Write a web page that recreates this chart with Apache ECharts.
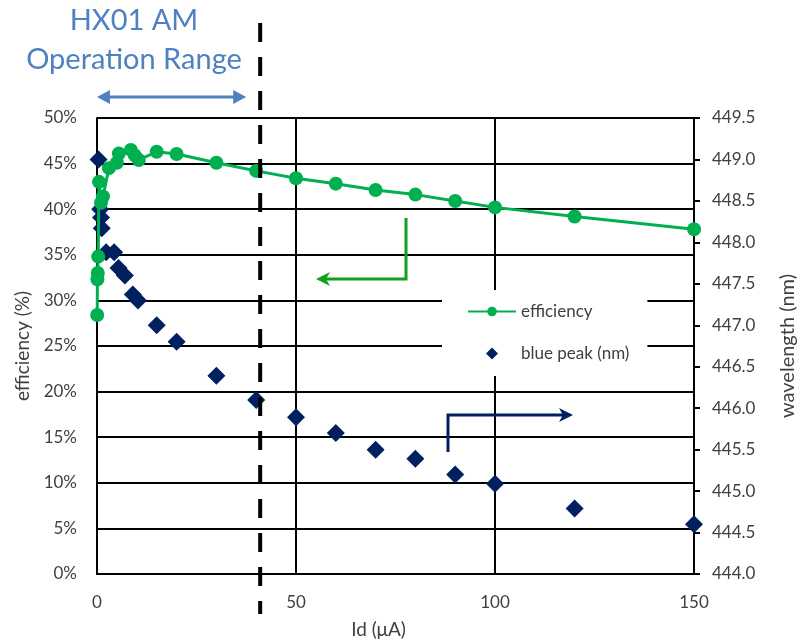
<!DOCTYPE html>
<html>
<head>
<meta charset="utf-8">
<script src="https://cdn.jsdelivr.net/npm/echarts@6/dist/echarts.min.js"></script>
<style>html,body{margin:0;padding:0;background:#fff;width:100%;height:100%;overflow:hidden}#c{width:100%;height:100%}</style>
</head>
<body>
<div id="c"></div>
<script>
// Efficiency series (Id in µA, efficiency in %)
var effX = [0.05, 0.1, 0.2, 0.3, 0.5, 1, 1.5, 3, 5, 5.5, 8.5, 9.5, 10.5, 15, 20, 30, 40, 50, 60, 70, 80, 90, 100, 120, 150];
var effY = [28.4, 32.3, 33.0, 34.8, 43.0, 40.7, 41.4, 44.5, 45.1, 46.1, 46.5, 45.9, 45.4, 46.3, 46.05, 45.1, 44.2, 43.4, 42.8, 42.1, 41.6, 40.9, 40.2, 39.2, 37.8];
// Blue peak wavelength series (Id in µA, nm)
var peakX = [0.4, 0.8, 1, 1.2, 2.3, 4.3, 5.4, 7, 9, 10.3, 15, 20, 30, 40, 50, 60, 70, 80, 90, 100, 120, 150];
var peakY = [449.0, 448.4, 448.3, 448.17, 447.88, 447.88, 447.69, 447.6, 447.37, 447.3, 447.0, 446.8, 446.39, 446.1, 445.89, 445.7, 445.5, 445.39, 445.2, 445.09, 444.79, 444.6];
// Axis ticks
var xTicks = [0, 50, 100, 150];
var rangeLimit = 41; // operation range boundary (µA)

var FONT = 'Lato, "Open Sans", sans-serif';
var TXT = '#404040';
var chart = echarts.init(document.getElementById('c'), null, {renderer: 'canvas'});

var effData = effX.map(function (x, i) { return [x, effY[i] / 100]; });
var peakData = peakX.map(function (x, i) { return [x, peakY[i]]; });

var option = {
  animation: false,
  backgroundColor: '#fff',
  textStyle: {fontFamily: FONT},
  grid: {left: 97, right: 103, top: 118, bottom: 66, containLabel: false, outerBoundsMode: 'none'},
  legend: {
    orient: 'vertical',
    left: 442, top: 290,
    padding: [13, 18, 14, 25],
    itemGap: 25,
    itemWidth: 48, itemHeight: 12,
    backgroundColor: '#fff',
    textStyle: {fontFamily: FONT, fontSize: 17, color: TXT},
    data: [
      {name: 'efficiency'},
      {name: 'blue peak (nm)', icon: 'path://M5,0 L10,5 L5,10 L0,5 Z'}
    ]
  },
  xAxis: {
    type: 'value', min: xTicks[0], max: xTicks[xTicks.length - 1], interval: 50,
    name: 'Id (\u03bcA)', nameLocation: 'middle', nameGap: 46,
    nameTextStyle: {fontFamily: FONT, fontSize: 19, color: TXT, padding: [0, 34, 0, 0]},
    axisLine: {show: true, lineStyle: {color: '#000', width: 2}},
    axisTick: {show: false},
    axisLabel: {fontFamily: FONT, fontSize: 17, color: TXT, margin: 20},
    splitLine: {show: true, lineStyle: {color: '#000', width: 2}}
  },
  yAxis: [{
    type: 'value', min: 0, max: 0.5, interval: 0.05,
    name: 'efficiency (%)', nameLocation: 'middle', nameGap: 64, nameRotate: 90,
    nameTextStyle: {fontFamily: FONT, fontSize: 19, color: TXT},
    axisLine: {show: true, lineStyle: {color: '#000', width: 2}},
    axisTick: {show: false},
    axisLabel: {fontFamily: FONT, fontSize: 17, color: TXT, margin: 20,
      formatter: function (v) { return Math.round(v * 100) + '%'; }},
    splitLine: {show: true, lineStyle: {color: '#000', width: 2}}
  }, {
    type: 'value', min: 444, max: 449.5, interval: 0.5, position: 'right',
    name: 'wavelength (nm)', nameLocation: 'middle', nameGap: 84, nameRotate: 90,
    nameTextStyle: {fontFamily: FONT, fontSize: 20, color: TXT},
    axisLine: {show: true, lineStyle: {color: '#000', width: 2}},
    axisTick: {show: true, inside: false, length: 6, lineStyle: {color: '#000', width: 2}},
    axisLabel: {fontFamily: FONT, fontSize: 17, color: TXT, margin: 18,
      formatter: function (v) { return v.toFixed(1); }},
    splitLine: {show: false}
  }],
  series: [{
    name: 'blue peak (nm)', type: 'scatter', yAxisIndex: 1,
    symbol: 'diamond', symbolSize: 18,
    itemStyle: {color: '#002060', opacity: 1},
    data: peakData, z: 3
  }, {
    name: 'efficiency', type: 'line', yAxisIndex: 0,
    symbol: 'circle', symbolSize: 14, showSymbol: true,
    lineStyle: {color: '#00b050', width: 3},
    itemStyle: {color: '#00b050'},
    data: effData, z: 4
  }]
};
chart.setOption(option);

// annotations
var xr = chart.convertToPixel({xAxisIndex: 0}, rangeLimit);
var x0 = chart.convertToPixel({xAxisIndex: 0}, 0);
var BLUE = '#4f81c2';
var G = '#10a020';
var NAVY = '#002060';
chart.setOption({
  graphic: [
    {type: 'text', x: 134, y: 6, z: 10, style: {text: 'HX01 AM', fill: BLUE, font: '29px ' + FONT, textAlign: 'center'}},
    {type: 'text', x: 134, y: 45, z: 10, style: {text: 'Operation Range', fill: BLUE, font: '29px ' + FONT, textAlign: 'center'}},
    // double arrow
    {type: 'line', z: 10, shape: {x1: x0 + 10, y1: 97, x2: xr - 24, y2: 97}, style: {stroke: BLUE, lineWidth: 3}},
    {type: 'polygon', z: 10, shape: {points: [[x0, 97], [x0 + 13, 90], [x0 + 13, 104]]}, style: {fill: BLUE}},
    {type: 'polygon', z: 10, shape: {points: [[xr - 14, 97], [xr - 27, 90], [xr - 27, 104]]}, style: {fill: BLUE}},
    // dashed boundary
    {type: 'line', z: 10, shape: {x1: xr, y1: 23, x2: xr, y2: 614}, style: {stroke: '#000', lineWidth: 4, lineDash: [19, 15]}},
    // green arrow (pointing to left axis)
    {type: 'polyline', z: 10, shape: {points: [[406, 218], [406, 279], [322, 279]]}, style: {stroke: G, lineWidth: 3, fill: null}},
    {type: 'polygon', z: 10, shape: {points: [[316, 279], [330, 272], [326, 279], [330, 286]]}, style: {fill: G}},
    // navy arrow (pointing to right axis)
    {type: 'polyline', z: 10, shape: {points: [[448, 452], [448, 415], [566, 415]]}, style: {stroke: NAVY, lineWidth: 3, fill: null}},
    {type: 'polygon', z: 10, shape: {points: [[573, 415], [559, 408], [563, 415], [559, 422]]}, style: {fill: NAVY}}
  ]
});
</script>
</body>
</html>
